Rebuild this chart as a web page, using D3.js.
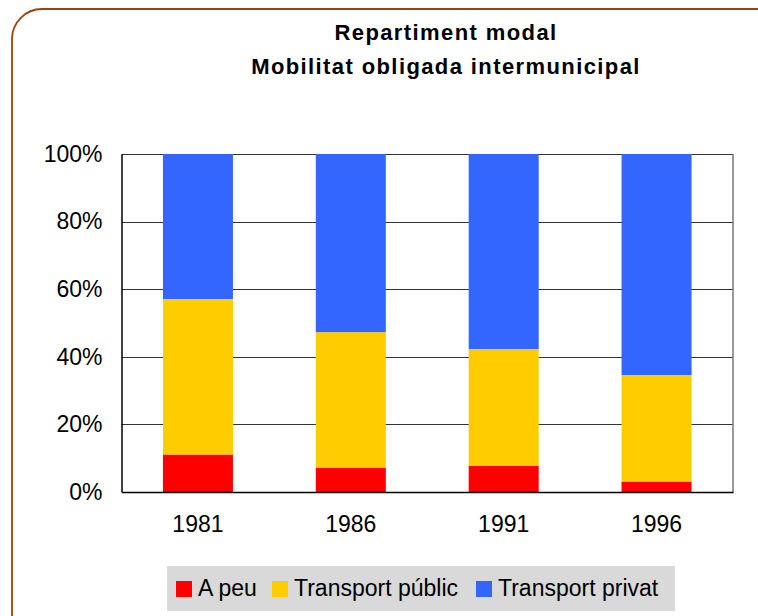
<!DOCTYPE html>
<html>
<head>
<meta charset="utf-8">
<script src="https://cdn.jsdelivr.net/npm/d3@7"></script>
<style>
  body { margin: 0; background: #fff; }
  svg { display: block; font-family: "Liberation Sans", Arial, sans-serif; }
</style>
</head>
<body>
<svg width="758" height="616"></svg>
<script>
// data (percent of trips)
var years = ["1981", "1986", "1991", "1996"];
var aPeu = [11.1, 7.1, 7.7, 3.1];
var transportPublic = [46.0, 40.2, 34.6, 31.5];
var transportPrivat = [42.9, 52.7, 57.7, 65.4];
var seriesNames = ["A peu", "Transport públic", "Transport privat"];
var seriesColors = ["#ff0000", "#ffcc00", "#3366ff"];
var yTicks = [0, 0.2, 0.4, 0.6, 0.8, 1];

var rows = years.map(function(y, i) {
  return { year: y, "A peu": aPeu[i], "Transport públic": transportPublic[i], "Transport privat": transportPrivat[i] };
});

var svg = d3.select("svg");
var plot = { left: 121.5, right: 733, top: 154, bottom: 492 };

// outer rounded frame
svg.append("rect")
   .attr("x", 12).attr("y", 9)
   .attr("width", 780).attr("height", 640)
   .attr("rx", 30).attr("ry", 30)
   .attr("fill", "none")
   .attr("stroke", "#a0400c")
   .attr("stroke-width", 1.8);

// title
var title = svg.append("text")
   .attr("text-anchor", "middle")
   .attr("font-size", 22)
   .attr("font-weight", "bold")
   .attr("letter-spacing", 1.4);
title.append("tspan").attr("x", 446).attr("y", 40).text("Repartiment modal");
title.append("tspan").attr("x", 446).attr("y", 74).text("Mobilitat obligada intermunicipal");

var x = d3.scaleBand()
          .domain(years)
          .range([plot.left, plot.right])
          .paddingInner(0.542)
          .paddingOuter(0.271);

var y = d3.scaleLinear()
          .domain([0, 1])
          .range([plot.bottom, plot.top]);

// gridlines
svg.append("g")
   .selectAll("line")
   .data(yTicks.slice(1))
   .enter()
   .append("line")
   .attr("x1", plot.left).attr("x2", plot.right)
   .attr("y1", function(d) { return Math.round(y(d)) + 0.5; })
   .attr("y2", function(d) { return Math.round(y(d)) + 0.5; })
   .attr("stroke", "#333")
   .attr("stroke-width", 1);

// right border of plot
svg.append("line")
   .attr("x1", plot.right).attr("x2", plot.right)
   .attr("y1", plot.top).attr("y2", plot.bottom)
   .attr("stroke", "#777").attr("stroke-width", 1.5);

var stack = d3.stack().keys(seriesNames)
              .value(function(d, k) { return d[k] / 100; });
var layers = stack(rows);

svg.append("g")
   .selectAll("g")
   .data(layers)
   .enter()
   .append("g")
   .attr("fill", function(d, i) { return seriesColors[i]; })
   .selectAll("rect")
   .data(function(d) { return d; })
   .enter()
   .append("rect")
   .attr("x", function(d) { return x(d.data.year); })
   .attr("width", x.bandwidth())
   .attr("y", function(d) { return y(d[1]); })
   .attr("height", function(d) { return y(d[0]) - y(d[1]); });

// y axis
var yAxis = svg.append("g")
   .attr("transform", "translate(" + plot.left + ",0)")
   .call(d3.axisLeft(y).tickValues(yTicks).tickFormat(d3.format(".0%")).tickSize(0).tickPadding(19));
yAxis.select(".domain").attr("stroke", "#000").attr("stroke-width", 1.5);
yAxis.selectAll("text").attr("font-size", 23).attr("fill", "#000")
     .attr("font-family", "Liberation Sans, Arial, sans-serif");

// x axis
var xAxis = svg.append("g")
   .attr("transform", "translate(0," + plot.bottom + ")")
   .call(d3.axisBottom(x).tickSize(0).tickPadding(24));
xAxis.select(".domain").attr("stroke", "#000").attr("stroke-width", 1.5);
xAxis.selectAll("text").attr("font-size", 23).attr("fill", "#000")
     .attr("font-family", "Liberation Sans, Arial, sans-serif");

// legend
var legend = svg.append("g");
legend.append("rect")
      .attr("x", 167).attr("y", 566)
      .attr("width", 508).attr("height", 45)
      .attr("fill", "#d9d9d9");
var legendX = [176, 272, 476];
var items = legend.selectAll("g.item")
      .data(seriesNames)
      .enter()
      .append("g")
      .attr("class", "item")
      .attr("transform", function(d, i) { return "translate(" + legendX[i] + ",0)"; });
items.append("rect")
     .attr("x", 0).attr("y", 581)
     .attr("width", 16).attr("height", 16)
     .attr("fill", function(d, i) { return seriesColors[i]; });
items.append("text")
     .attr("x", 22).attr("y", 596)
     .attr("font-size", 23)
     .text(function(d) { return d; });
</script>
</body>
</html>
